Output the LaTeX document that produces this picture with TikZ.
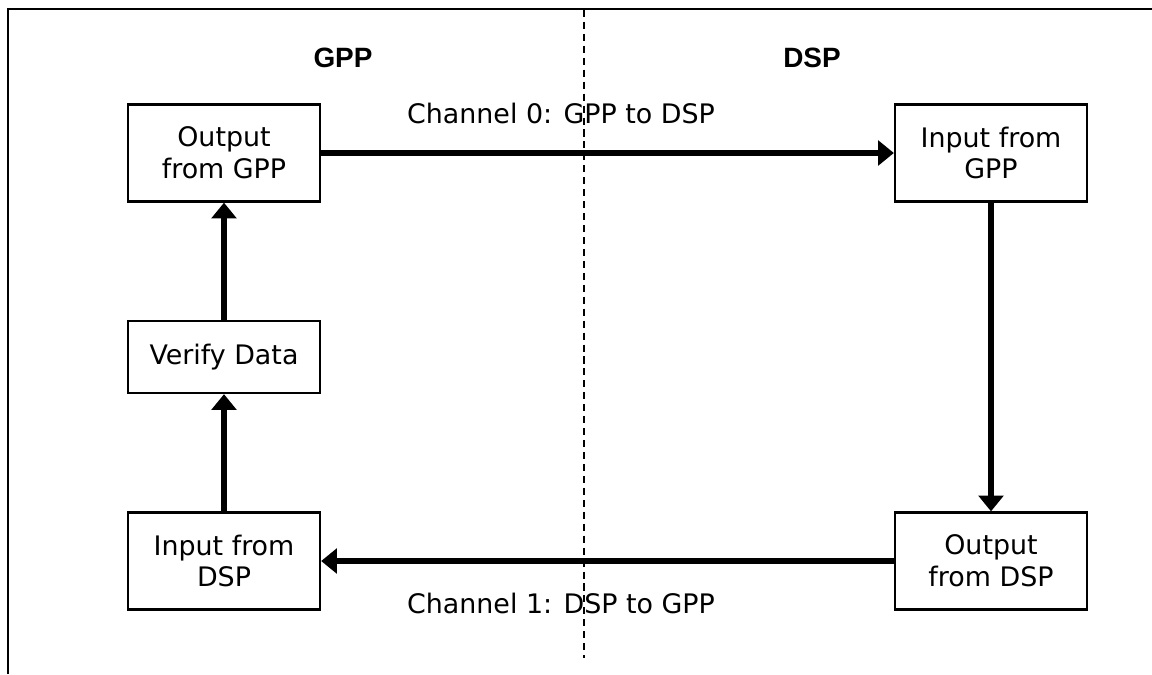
\documentclass[tikz,border=0pt]{standalone}
\usepackage{fontspec}
\setmainfont{DejaVu Sans}
\newfontfamily\headfont{Liberation Sans}
\usetikzlibrary{arrows.meta}

\begin{document}
\begin{tikzpicture}[x=0.02cm,y=-0.02cm,
    box/.style={draw,line width=1.3pt,minimum width=3.84cm,minimum height=1.94cm,
        align=center,inner sep=0pt,font=\fontsize{15.3}{18.1}\selectfont},
    flow/.style={line width=3pt,-{Triangle[width=14pt,length=9pt]}},
    chan/.style={font=\fontsize{15.3}{18.1}\selectfont,inner sep=0pt},
    side/.style={font=\headfont\bfseries\fontsize{15.9}{19}\selectfont,inner sep=0pt}]

    \useasboundingbox (0,0) rectangle (1152,674);

    %frame and divider:
    \draw[line width=1.3pt] (8,674) -- (8,9) -- (1152,9);
    \coordinate (divtop) at (584,10);
    \coordinate (divbot) at (584,658);
    \draw[line width=1pt,dash pattern=on 4pt off 2.8pt] (divtop) -- (divbot);

    %sides:
    \node[side] (gpp) at (343,58) {GPP};
    \node[side] (dsp) at (812,58) {DSP};

    %boxes:
    \node[box] (outgpp) at (224,153) {Output\\from GPP};
    \node[box,minimum height=1.44cm] (verify) at (224,357) {Verify Data};
    \node[box] (indsp) at (224,561) {Input from\\DSP};
    \node[box] (ingpp) at (991,153) {Input from\\GPP};
    \node[box] (outdsp) at (991,561) {Output\\from DSP};

    %channels:
    \draw[flow] (outgpp) -- (ingpp);
    \draw[flow] (ingpp) -- (outdsp);
    \draw[flow] (outdsp) -- (indsp);
    \draw[flow] (indsp) -- (verify);
    \draw[flow] (verify) -- (outgpp);
    \node[chan] (chan0) at (561,113) {Channel 0: GPP to DSP};
    \node[chan] (chan1) at (561,603) {Channel 1: DSP to GPP};

\end{tikzpicture}
\end{document}
